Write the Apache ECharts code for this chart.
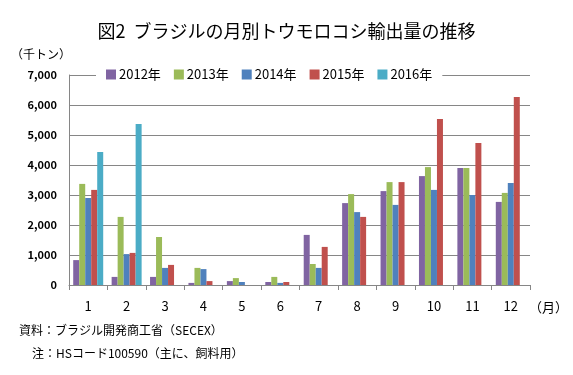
<!DOCTYPE html>
<html>
<head>
<meta charset="utf-8">
<script src="https://cdn.jsdelivr.net/npm/echarts@6/dist/echarts.min.js"></script>
<style>
html, body { margin: 0; padding: 0; background: #fff; }
#chart { width: 573px; height: 375px; }
</style>
</head>
<body>
<div id="chart"></div>
<script>
var months = ['1', '2', '3', '4', '5', '6', '7', '8', '9', '10', '11', '12'];
var years = ['2012年', '2013年', '2014年', '2015年', '2016年'];
var y2012 = [830, 270, 270, 70, 130, 100, 1670, 2730, 3130, 3630, 3900, 2770];
var y2013 = [3370, 2270, 1600, 570, 230, 270, 700, 3030, 3430, 3930, 3900, 3070];
var y2014 = [2900, 1030, 570, 530, 100, 70, 570, 2430, 2670, 3170, 3000, 3400];
var y2015 = [3170, 1070, 670, 130, 0, 100, 1270, 2270, 3430, 5530, 4730, 6270];
var y2016 = [4430, 5370, null, null, null, null, null, null, null, null, null, null];
var colors = ['#8064A2', '#9BBB59', '#4F81BD', '#C0504D', '#4BACC6'];
var font = '"Noto Sans CJK JP", sans-serif';

var myChart = echarts.init(document.getElementById('chart'));
var seriesData = [y2012, y2013, y2014, y2015, y2016];
var series = [];
for (var i = 0; i < years.length; i++) {
    series.push({
        name: years[i],
        type: 'bar',
        barWidth: 6,
        barGap: '0%',
        data: seriesData[i]
    });
}

option = {
    color: colors,
    textStyle: { fontFamily: font },
    title: [{
        text: '図2  ブラジルの月別トウモロコシ輸出量の推移',
        left: 'center',
        top: 17,
        textStyle: { fontSize: 18, fontWeight: 'normal', color: '#000', fontFamily: font }
    }, {
        text: '（千トン）',
        left: 6,
        top: 43,
        textStyle: { fontSize: 12, fontWeight: 'normal', color: '#000', fontFamily: font }
    }, {
        text: '（月）',
        left: 524,
        top: 296,
        textStyle: { fontSize: 13, fontWeight: 'normal', color: '#000', fontFamily: font }
    }, {
        text: '資料：ブラジル開発商工省（SECEX）',
        left: 14,
        top: 319,
        textStyle: { fontSize: 12, fontWeight: 'normal', color: '#000', fontFamily: font }
    }, {
        text: '注：HSコード100590（主に、飼料用）',
        left: 27,
        top: 342,
        textStyle: { fontSize: 12, fontWeight: 'normal', color: '#000', fontFamily: font }
    }],
    legend: {
        data: years,
        top: 66,
        left: 96,
        itemWidth: 10,
        itemHeight: 10,
        itemGap: 13,
        padding: [2, 10, 2, 10],
        backgroundColor: '#fff',
        icon: 'rect',
        textStyle: { fontSize: 13, color: '#000', fontFamily: font, padding: [0, 0, 0, -2] }
    },
    grid: {
        left: 69,
        right: 43,
        top: 75,
        bottom: 90
    },
    xAxis: [{
        type: 'category',
        data: months,
        axisLine: { lineStyle: { color: '#868686' } },
        axisTick: { show: true, length: 5, lineStyle: { color: '#868686' } },
        axisLabel: { fontSize: 13, color: '#000', margin: 15, fontFamily: font }
    }],
    yAxis: [{
        type: 'value',
        min: 0,
        max: 7000,
        interval: 1000,
        axisLine: { show: true, lineStyle: { color: '#868686' } },
        axisTick: { show: false },
        splitLine: { lineStyle: { color: '#868686' } },
        axisLabel: {
            fontSize: 11,
            fontWeight: 'bold',
            color: '#000',
            margin: 12,
            fontFamily: font,
            formatter: function (v) {
                return v.toString().replace(/\B(?=(\d{3})+(?!\d))/g, ',');
            }
        }
    }],
    series: series
};

myChart.setOption(option);
</script>
</body>
</html>
